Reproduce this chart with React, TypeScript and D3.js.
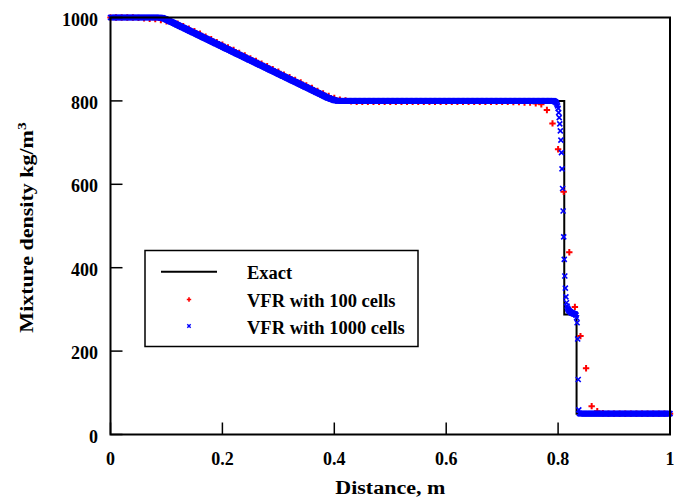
import React from 'react'
import * as d3 from 'd3'

// tick values
const xTicks = [0, 0.2, 0.4, 0.6, 0.8, 1]
const yTicks = [0, 200, 400, 600, 800, 1000]

// exact solution (distance, density)
const exactX = [0, 0.092, 0.15, 0.2, 0.25, 0.3, 0.35, 0.4, 0.811, 0.811, 0.833, 0.833, 1]
const exactY = [1000, 1000, 962, 930, 897, 865, 832, 800, 800, 288, 288, 50, 50]

// VFR with 100 cells, one value per node 0, 0.01 ... 1
const vfr100 = [
  1000, 1000, 1000, 1000, 1000, 999, 998, 997, 996, 994,
  991, 988, 985, 979, 973, 967, 961, 954, 948, 941,
  935, 928, 922, 915, 909, 902, 896, 889, 883, 876,
  870, 863, 857, 850, 844, 837, 831, 824, 818, 812,
  807, 803, 801, 799, 798, 798, 798, 798, 798, 798,
  798, 798, 798, 798, 798, 798, 798, 798, 798, 798,
  798, 798, 798, 798, 798, 798, 798, 798, 798, 798,
  798, 798, 797, 797, 796, 796, 794, 792, 778, 746,
  684, 582, 437, 306, 236, 159, 68, 56, 51, 50,
  50, 50, 50, 50, 50, 50, 50, 50, 50, 50,
  50,
]

// VFR with 1000 cells, one value per node 0, 0.001 ... 1
const vfr1000 = [
  1000, 1000, 1000, 1000, 1000, 1000, 1000, 1000, 1000, 1000, 1000, 1000, 1000, 1000, 1000, 1000, 1000, 1000, 1000, 1000,
  1000, 1000, 1000, 1000, 1000, 1000, 1000, 1000, 1000, 1000, 1000, 1000, 1000, 1000, 1000, 1000, 1000, 1000, 1000, 1000,
  1000, 1000, 1000, 1000, 1000, 1000, 1000, 1000, 1000, 1000, 1000, 1000, 1000, 1000, 1000, 1000, 1000, 1000, 1000, 1000,
  1000, 1000, 1000, 1000, 1000, 1000, 1000, 1000, 1000, 1000, 1000, 1000, 1000, 1000, 1000, 1000, 1000, 1000, 1000, 1000,
  1000, 1000, 1000, 1000, 1000, 1000, 1000, 1000, 1000, 1000, 999, 999, 999, 999, 998, 998, 997, 997, 996, 996,
  995, 994, 994, 993, 992, 992, 991, 990, 990, 989, 989, 988, 987, 987, 986, 985, 985, 984, 983, 983,
  982, 981, 981, 980, 979, 979, 978, 977, 977, 976, 976, 975, 974, 974, 973, 972, 972, 971, 970, 970,
  969, 968, 968, 967, 966, 966, 965, 964, 964, 963, 963, 962, 961, 961, 960, 959, 959, 958, 957, 957,
  956, 955, 955, 954, 953, 953, 952, 951, 951, 950, 950, 949, 948, 948, 947, 946, 946, 945, 944, 944,
  943, 942, 942, 941, 940, 940, 939, 938, 938, 937, 937, 936, 935, 935, 934, 933, 933, 932, 931, 931,
  930, 929, 929, 928, 927, 927, 926, 925, 925, 924, 924, 923, 922, 922, 921, 920, 920, 919, 918, 918,
  917, 916, 916, 915, 914, 914, 913, 912, 912, 911, 911, 910, 909, 909, 908, 907, 907, 906, 905, 905,
  904, 903, 903, 902, 901, 901, 900, 899, 899, 898, 898, 897, 896, 896, 895, 894, 894, 893, 892, 892,
  891, 890, 890, 889, 888, 888, 887, 886, 886, 885, 885, 884, 883, 883, 882, 881, 881, 880, 879, 879,
  878, 877, 877, 876, 875, 875, 874, 873, 873, 872, 872, 871, 870, 870, 869, 868, 868, 867, 866, 866,
  865, 864, 864, 863, 862, 862, 861, 860, 860, 859, 859, 858, 857, 857, 856, 855, 855, 854, 853, 853,
  852, 851, 851, 850, 849, 849, 848, 847, 847, 846, 846, 845, 844, 844, 843, 842, 842, 841, 840, 840,
  839, 838, 838, 837, 836, 836, 835, 834, 834, 833, 833, 832, 831, 831, 830, 829, 829, 828, 827, 827,
  826, 825, 825, 824, 823, 823, 822, 821, 821, 820, 820, 819, 818, 818, 817, 816, 816, 815, 814, 814,
  813, 812, 812, 811, 810, 810, 809, 808, 808, 807, 807, 806, 806, 805, 805, 804, 804, 803, 803, 802,
  802, 801, 801, 801, 801, 800, 800, 800, 800, 800, 800, 800, 800, 800, 800, 800, 800, 800, 800, 800,
  800, 800, 800, 800, 800, 800, 800, 800, 800, 800, 800, 800, 800, 800, 800, 800, 800, 800, 800, 800,
  800, 800, 800, 800, 800, 800, 800, 800, 800, 800, 800, 800, 800, 800, 800, 800, 800, 800, 800, 800,
  800, 800, 800, 800, 800, 800, 800, 800, 800, 800, 800, 800, 800, 800, 800, 800, 800, 800, 800, 800,
  800, 800, 800, 800, 800, 800, 800, 800, 800, 800, 800, 800, 800, 800, 800, 800, 800, 800, 800, 800,
  800, 800, 800, 800, 800, 800, 800, 800, 800, 800, 800, 800, 800, 800, 800, 800, 800, 800, 800, 800,
  800, 800, 800, 800, 800, 800, 800, 800, 800, 800, 800, 800, 800, 800, 800, 800, 800, 800, 800, 800,
  800, 800, 800, 800, 800, 800, 800, 800, 800, 800, 800, 800, 800, 800, 800, 800, 800, 800, 800, 800,
  800, 800, 800, 800, 800, 800, 800, 800, 800, 800, 800, 800, 800, 800, 800, 800, 800, 800, 800, 800,
  800, 800, 800, 800, 800, 800, 800, 800, 800, 800, 800, 800, 800, 800, 800, 800, 800, 800, 800, 800,
  800, 800, 800, 800, 800, 800, 800, 800, 800, 800, 800, 800, 800, 800, 800, 800, 800, 800, 800, 800,
  800, 800, 800, 800, 800, 800, 800, 800, 800, 800, 800, 800, 800, 800, 800, 800, 800, 800, 800, 800,
  800, 800, 800, 800, 800, 800, 800, 800, 800, 800, 800, 800, 800, 800, 800, 800, 800, 800, 800, 800,
  800, 800, 800, 800, 800, 800, 800, 800, 800, 800, 800, 800, 800, 800, 800, 800, 800, 800, 800, 800,
  800, 800, 800, 800, 800, 800, 800, 800, 800, 800, 800, 800, 800, 800, 800, 800, 800, 800, 800, 800,
  800, 800, 800, 800, 800, 800, 800, 800, 800, 800, 800, 800, 800, 800, 800, 800, 800, 800, 800, 800,
  800, 800, 800, 800, 800, 800, 800, 800, 800, 800, 800, 800, 800, 800, 800, 800, 800, 800, 800, 800,
  800, 800, 800, 800, 800, 800, 800, 800, 800, 800, 800, 800, 800, 800, 800, 800, 800, 800, 800, 800,
  800, 800, 800, 800, 800, 800, 800, 800, 800, 800, 800, 800, 800, 800, 800, 800, 800, 800, 800, 800,
  800, 800, 800, 800, 800, 800, 800, 800, 800, 800, 800, 800, 800, 799, 799, 798, 797, 795, 792, 788,
  782, 772, 760, 745, 728, 706, 676, 637, 590, 536, 474, 420, 380, 351, 330, 316, 308, 303, 300, 298,
  296, 295, 294, 293, 292, 291, 291, 290, 290, 289, 289, 288, 286, 280, 268, 229, 132, 59, 51, 50,
  50, 50, 50, 50, 50, 50, 50, 50, 50, 50, 50, 50, 50, 50, 50, 50, 50, 50, 50, 50,
  50, 50, 50, 50, 50, 50, 50, 50, 50, 50, 50, 50, 50, 50, 50, 50, 50, 50, 50, 50,
  50, 50, 50, 50, 50, 50, 50, 50, 50, 50, 50, 50, 50, 50, 50, 50, 50, 50, 50, 50,
  50, 50, 50, 50, 50, 50, 50, 50, 50, 50, 50, 50, 50, 50, 50, 50, 50, 50, 50, 50,
  50, 50, 50, 50, 50, 50, 50, 50, 50, 50, 50, 50, 50, 50, 50, 50, 50, 50, 50, 50,
  50, 50, 50, 50, 50, 50, 50, 50, 50, 50, 50, 50, 50, 50, 50, 50, 50, 50, 50, 50,
  50, 50, 50, 50, 50, 50, 50, 50, 50, 50, 50, 50, 50, 50, 50, 50, 50, 50, 50, 50,
  50, 50, 50, 50, 50, 50, 50, 50, 50, 50, 50, 50, 50, 50, 50, 50, 50, 50, 50, 50,
  50,
]

const legendLabels = ['Exact', 'VFR with 100 cells', 'VFR with 1000 cells']

const width = 674
const height = 502
const margin = { top: 17.5, right: 4, bottom: 67.5, left: 110.5 }
const font = '"Liberation Serif", "Times New Roman", serif'

const plus = (s: number) => `M${-s},0H${s}M0,${-s}V${s}`
const cross = (s: number) => `M${-s},${-s}L${s},${s}M${-s},${s}L${s},${-s}`

const App = () => {
  const x = d3.scaleLinear().domain([0, 1]).range([margin.left, width - margin.right])
  const y = d3.scaleLinear().domain([0, 1000]).range([height - margin.bottom, margin.top])
  const fmt = d3.format('~g')

  const exactLine = d3
    .line<number>()
    .x((d) => x(d))
    .y((_, i) => y(exactY[i]))

  const x0 = x.range()[0]
  const x1 = x.range()[1]
  const yb = y.range()[0]
  const yt = y.range()[1]
  const tick = 12

  return (
    <svg
      width={width}
      height={height}
      style={{ position: 'absolute', left: 0, top: 0, background: '#fff' }}
      fontFamily={font}
      fontWeight="bold"
    >
      <path d={exactLine(exactX) || ''} fill="none" stroke="#000" strokeWidth={2} />

      <g stroke="#ff0000" strokeWidth={2} fill="none">
        {vfr100.map((v, i) => (
          <path key={i} d={plus(3.2)} transform={`translate(${x(i / 100)},${y(v)})`} />
        ))}
      </g>

      <g stroke="#0000ff" strokeWidth={1.6} fill="none">
        {vfr1000.map((v, i) => (
          <path key={i} d={cross(2.5)} transform={`translate(${x(i / 1000)},${y(v)})`} />
        ))}
      </g>

      {/* frame */}
      <rect x={x0} y={yt} width={x1 - x0} height={yb - yt} fill="none" stroke="#000" strokeWidth={2} />

      {/* x axis */}
      {xTicks.map((t) => (
        <g key={t}>
          <line x1={x(t)} x2={x(t)} y1={yb} y2={yb - tick} stroke="#000" strokeWidth={1.5} />
          <text x={x(t)} y={yb + 30.5} textAnchor="middle" fontSize={18}>
            {fmt(t)}
          </text>
        </g>
      ))}
      <text transform={`translate(${(x0 + x1) / 2},494) scale(1.19,1)`} textAnchor="middle" fontSize={18.5}>
        Distance, m
      </text>

      {/* y axis */}
      {yTicks.map((t) => (
        <g key={t}>
          <line x1={x0} x2={x0 + tick} y1={y(t)} y2={y(t)} stroke="#000" strokeWidth={1.5} />
          <text x={x0 - 12.5} y={y(t) + 8} textAnchor="end" fontSize={18}>
            {t}
          </text>
        </g>
      ))}
      <text
        transform={`translate(32.5,${(yt + yb) / 2 + 1.5}) rotate(-90) scale(1.19,1)`}
        textAnchor="middle"
        fontSize={18.5}
      >
        Mixture density kg/m
        <tspan fontSize={13} dy={-7}>
          3
        </tspan>
      </text>

      {/* legend */}
      <g>
        <rect x={145} y={250.5} width={273} height={96} fill="#fff" stroke="#000" strokeWidth={1.5} />
        <line x1={161} x2={217} y1={271.7} y2={271.7} stroke="#000" strokeWidth={2} />
        <path d={plus(2.2)} transform="translate(189,299.5)" stroke="#ff0000" strokeWidth={1.6} fill="none" />
        <path d={cross(1.7)} transform="translate(189,326)" stroke="#0000ff" strokeWidth={1.4} fill="none" />
        {legendLabels.map((l, i) => (
          <text key={l} x={247} y={279 + i * 27.5} fontSize={18.5}>
            {l}
          </text>
        ))}
      </g>
    </svg>
  )
}

export default App
